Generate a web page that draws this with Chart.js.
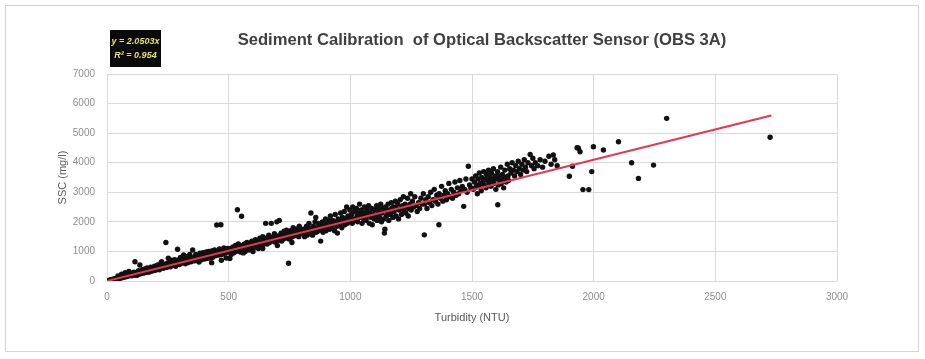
<!DOCTYPE html>
<html><head><meta charset="utf-8">
<script src="https://cdn.jsdelivr.net/npm/chart.js@4"></script>
<style>
html,body{margin:0;padding:0;background:#fff;}
#wrap{position:relative;width:925px;height:359px;}
</style></head>
<body><div id="wrap"><canvas id="c" width="925" height="359"></canvas></div>
<script>
const chartTitle = "Sediment Calibration  of Optical Backscatter Sensor (OBS 3A)";
const xTitle = "Turbidity (NTU)";
const yTitle = "SSC (mg/l)";
const eqLines = ["y = 2.0503x", "R² = 0.954"];
const xTicks = [0, 500, 1000, 1500, 2000, 2500, 3000];
const yTicks = [0, 1000, 2000, 3000, 4000, 5000, 6000, 7000];
const trendX = [0, 2730];
const trendY = [0, 5597];

const turbidity = [
5,8,10,12,15,18,20,22,25,28,30,32,35,38,40,42,45,48,50,52,55,58,60,62,65,68,70,72,75,78,80,82,85,88,90,92,95,98,100,60,75,90,45,
102,105,108,110,112,115,118,120,122,125,128,130,132,135,136,140,142,145,148,150,152,155,158,160,162,165,168,170,172,175,178,180,182,185,188,190,192,195,198,200,202,205,208,210,212,215,218,220,222,225,228,230,232,235,238,240,242,245,248,250,
252,255,258,260,262,265,268,270,272,275,278,280,282,285,288,290,292,295,298,300,302,305,308,310,312,315,318,320,322,325,328,330,332,335,338,340,342,345,348,350,352,355,358,360,362,365,368,370,372,375,378,380,382,385,388,390,392,395,398,400,402,405,408,410,412,415,418,420,422,425,428,430,432,435,438,440,442,445,448,450,451,455,458,460,462,465,468,470,472,475,478,480,482,485,488,490,492,495,498,500,430,470,490,505,
505,508,510,515,518,520,525,528,530,535,536,538,540,545,548,550,553,555,558,560,565,568,570,575,578,580,585,588,590,595,598,600,605,608,610,612,615,620,622,625,628,630,635,638,640,645,648,650,652,655,658,660,665,668,670,675,678,680,685,688,690,695,698,700,705,708,710,715,718,720,725,728,730,735,738,740,745,748,750,746,755,758,760,765,768,770,775,778,780,785,788,790,795,800,560,600,640,700,760,
805,810,812,815,820,822,825,828,830,835,838,840,845,848,850,855,858,860,865,868,870,875,878,880,885,888,890,895,898,900,905,908,910,915,918,920,925,928,930,935,938,940,945,947,950,955,958,960,965,968,970,975,978,980,985,988,990,995,998,1000,
1005,1008,1010,1015,1018,1020,1025,1028,1030,1035,1038,1040,1045,1048,1050,1055,1058,1060,1065,1068,1070,1075,1078,1080,1085,1088,1090,1095,1098,1100,1105,1108,1110,1115,1118,1120,1125,1128,1130,1135,1138,1140,1142,1145,1148,1150,1155,1158,1160,1165,1168,1170,1175,1178,1180,1185,1188,1190,1195,1198,1200,1205,1208,1210,1215,1218,1220,1225,1228,1230,1235,1238,1240,1245,1248,1250,1255,1260,1265,1270,1275,1280,1285,1290,1295,1300,1304,
1305,1310,1315,1320,1325,1330,1335,1340,1345,1350,1355,1360,1364,1365,1370,1375,1380,1385,1390,1395,1400,1405,1410,1415,1420,1425,1430,1435,1440,1445,1450,1455,1460,1466,1470,1475,1480,1485,1490,1495,1500,
1505,1510,1512,1515,1520,1522,1525,1528,1530,1535,1538,1540,1545,1548,1550,1555,1558,1560,1565,1568,1570,1575,1578,1580,1585,1588,1590,1595,1598,1600,1605,1606,1608,1610,1615,1618,1620,1625,1628,1630,1635,1638,1640,1645,1648,1650,
1655,1660,1665,1670,1675,1680,1685,1690,1695,1700,1705,1710,1715,1720,1725,1730,1739,1745,1750,1755,1760,1770,1780,1790,1800,1816,1825,1834,1840,1850,
1900,1913,1932,1937,1944,1956,1980,1992,1999,2040,2102,2156,2184,2246,2300,2725
];
const ssc = [
10,20,15,30,25,40,35,55,45,60,70,50,80,65,90,75,100,85,120,95,110,130,105,140,125,160,135,150,175,145,190,160,170,210,180,230,195,220,250,230,280,320,170,
180,260,220,300,200,650,240,280,190,310,260,350,230,540,290,320,250,380,300,330,270,410,310,360,290,440,340,380,300,420,360,470,330,400,350,450,380,500,360,420,480,390,540,430,460,380,520,450,620,650,470,500,430,560,480,520,1300,460,600,510,
770,540,620,480,580,700,520,600,650,560,720,610,500,680,590,1076,640,720,560,650,800,600,700,620,760,880,640,720,580,690,820,700,620,760,680,900,720,650,780,700,1048,760,680,820,740,900,700,800,760,850,640,780,940,820,720,860,780,960,800,740,880,820,980,760,900,840,1000,860,780,920,870,1020,900,800,950,880,1050,920,860,980,1894,940,1000,880,1080,960,1900,1000,900,1050,980,1120,940,1000,1080,960,1020,1100,1000,1060,620,700,780,760,
1000,1100,900,1050,1150,950,1050,1200,1000,1100,2410,1050,1250,1080,980,1150,2190,1050,1200,1100,1250,1000,1150,1300,1100,1200,1050,1280,1150,1350,1200,1100,1250,1150,1400,1300,1200,1350,1100,1250,1450,1300,1200,1350,1500,1250,1400,1320,1950,1450,1250,1350,1550,1300,1400,1950,1350,1480,1380,1600,1320,1450,2000,1520,1380,2050,1480,1620,1350,1520,1420,1680,1550,1450,1720,1500,1600,1420,1560,600,1700,1480,1620,1800,1520,1660,1560,1750,1620,1700,1500,1850,1650,1750,950,1000,1100,1200,1300,
1600,1750,1500,1700,1850,1550,1650,1800,1950,1600,2300,1750,1550,1850,1700,2000,2150,1650,1800,1950,1700,1850,1350,1750,2000,1650,1900,1800,2100,1700,1950,1850,2050,1750,2200,1900,1800,2050,1950,1700,2250,2000,1850,1620,2100,1900,2000,2300,1800,2150,2000,2350,1900,2100,2500,1950,2200,2050,2400,2100,
2250,1950,2500,2100,2350,2050,2450,2200,2000,2300,2600,2150,2400,1950,2250,2100,2500,2300,2050,2400,2200,2550,1950,2300,2150,2450,1900,2250,2100,2400,2200,2550,2050,2300,2450,2150,2600,2000,2300,2450,2100,1620,1750,2500,2200,2350,2600,2050,2400,2250,2650,2450,2150,2500,2350,2700,2200,2450,2600,2100,2400,2750,2450,2250,2550,2850,2400,2600,2300,2500,2800,2200,2450,2600,2950,2400,2700,2500,2850,2550,2350,2650,2450,2800,2600,2950,1560,
2600,2750,2450,2850,2650,3000,2550,2750,3100,2700,2900,2600,1900,2950,2800,3200,2700,2900,3050,2750,2950,3300,2850,3100,2800,3000,3350,2900,3150,2950,3400,3050,3200,2525,3100,3450,3000,3880,3250,3150,3450,
3100,3350,3150,3550,3250,2950,3450,3200,3650,3300,3050,3500,3350,3700,3250,3450,3150,3600,3400,3750,3300,3500,3200,3650,3400,3800,3300,3550,3100,3450,3700,2580,3250,3550,3400,3850,3300,3600,3450,3150,3750,3500,3350,3950,3550,3400,
3800,3650,4000,3750,3550,3900,3700,4050,3800,3600,3950,3750,4100,3850,3700,4000,4280,3900,4150,3800,4000,3900,4100,3850,4050,4220,3950,4260,4100,3900,
3540,3880,4510,4490,4370,3090,3090,3700,4540,4430,4710,4000,3470,3920,5500,4860
];

const decor = {
  id: 'decor',
  beforeDraw(chart) {
    const ctx = chart.ctx;
    ctx.save();
    ctx.fillStyle = '#fff';
    ctx.fillRect(0, 0, chart.width, chart.height);
    ctx.strokeStyle = '#d4d4d4';
    ctx.lineWidth = 1;
    ctx.strokeRect(5.5, 5.5, 913, 346);
    ctx.restore();
  },
  afterDraw(chart) {
    const ctx = chart.ctx;
    ctx.save();
    // title
    ctx.fillStyle = '#404040';
    ctx.font = 'bold 16.6px "Liberation Sans", sans-serif';
    ctx.textAlign = 'center';
    ctx.textBaseline = 'middle';
    ctx.fillText(chartTitle, 482, 40);
    // equation label
    ctx.fillStyle = '#0a0a0a';
    ctx.fillRect(110, 30, 51, 37);
    ctx.fillStyle = '#e4e070';
    ctx.font = 'italic bold 9px "Liberation Sans", sans-serif';
    ctx.fillText(eqLines[0], 135.5, 42);
    ctx.fillText(eqLines[1], 135.5, 56);
    ctx.restore();
  }
};

const tickFmt = v => String(v);

new Chart(document.getElementById('c'), {
  type: 'scatter',
  data: {
    datasets: [
      {
        type: 'line',
        label: 'Trend',
        data: trendX.map((x, i) => ({x: x, y: trendY[i]})),
        borderColor: '#e8364e',
        borderWidth: 2,
        pointRadius: 0,
        fill: false,
        order: 0
      },
      {
        label: 'SSC',
        data: turbidity.map((x, i) => ({x: x, y: ssc[i]})),
        backgroundColor: '#111111',
        borderColor: '#111111',
        pointRadius: 2.7,
        borderWidth: 0,
        order: 1
      }
    ]
  },
  options: {
    responsive: false,
    animation: false,
    layout: { padding: { left: 52, right: 88, top: 74, bottom: 30 } },
    plugins: {
      legend: { display: false },
      tooltip: { enabled: false },
      title: { display: false }
    },
    scales: {
      x: {
        type: 'linear',
        min: 0, max: 3000,
        afterBuildTicks(s) { s.ticks = xTicks.map(v => ({value: v})); },
        afterFit(s) { s.height = 48; },
        grid: { color: '#d9d9d9', drawTicks: false },
        border: { display: false },
        ticks: { color: '#8c8c8c', font: { family: '"Liberation Sans", sans-serif', size: 10 }, padding: 10, maxRotation: 0, callback: tickFmt },
        title: { display: true, text: xTitle, color: '#595959', font: { family: '"Liberation Sans", sans-serif', size: 11 }, padding: { top: 4, bottom: 4 } }
      },
      y: {
        type: 'linear',
        min: 0, max: 7000,
        afterBuildTicks(s) { s.ticks = yTicks.map(v => ({value: v})); },
        afterFit(s) { s.width = 55; },
        grid: { color: '#d9d9d9', drawTicks: false },
        border: { display: false },
        ticks: { color: '#8c8c8c', font: { family: '"Liberation Sans", sans-serif', size: 10 }, padding: 12, callback: tickFmt },
        title: { display: true, text: yTitle, color: '#595959', font: { family: '"Liberation Sans", sans-serif', size: 11 }, padding: { top: 4, bottom: 4 } }
      }
    }
  },
  plugins: [decor]
});
</script>
</body></html>
